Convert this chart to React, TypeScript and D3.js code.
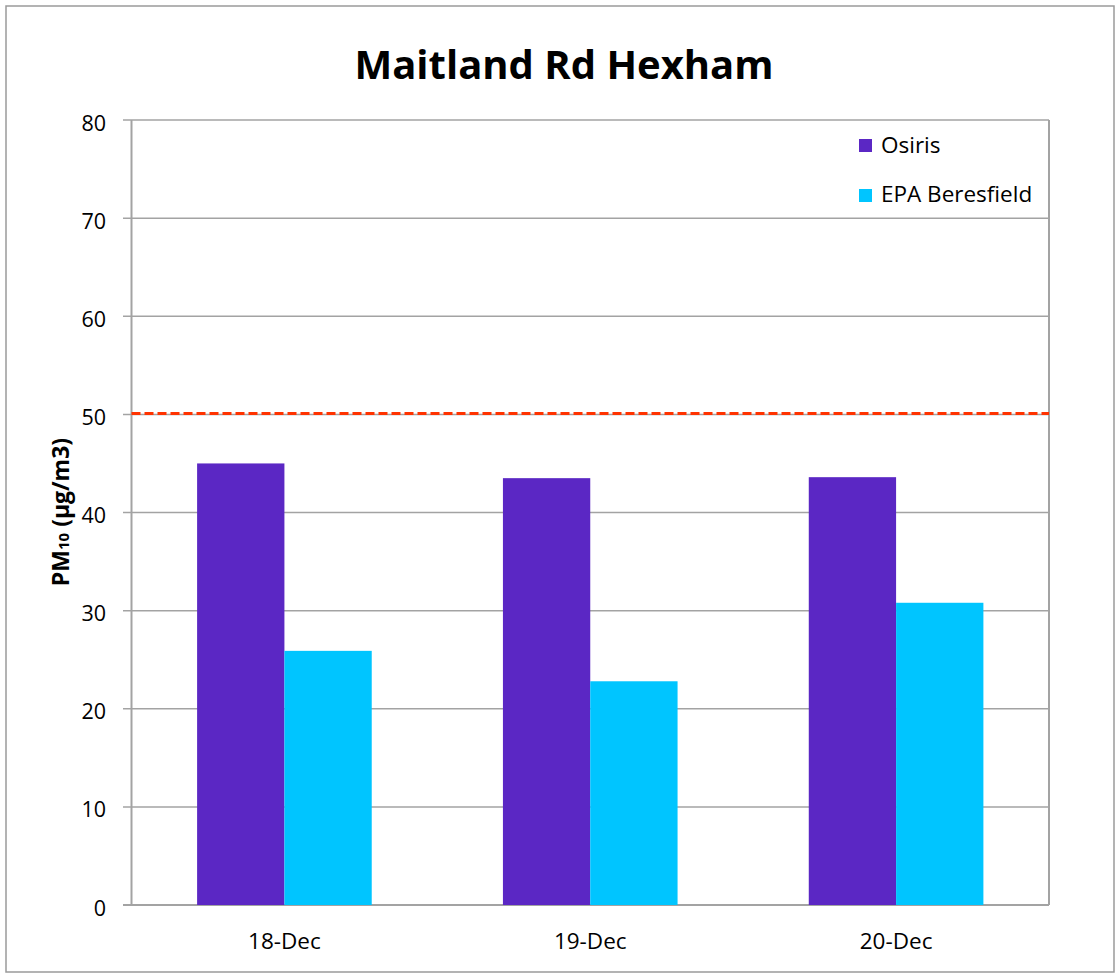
import React from "react";
import * as d3 from "d3";

const categories = ["18-Dec", "19-Dec", "20-Dec"];
const seriesNames = ["Osiris", "EPA Beresfield"];
const osiris = [45.0, 43.5, 43.6];
const epaBeresfield = [25.9, 22.8, 30.8];
const yTicks = [0, 10, 20, 30, 40, 50, 60, 70, 80];
const limitValue = 50.1;
const colors = ["#5B27C4", "#00C5FF"];

export default function App() {
  const W = 1120, H = 973;
  const left = 131.5, right = 1049, top = 120, bottom = 905;
  const font = "'Open Sans', 'Noto Sans', sans-serif";
  const y = d3.scaleLinear().domain([0, 80]).range([bottom, top]);
  const x = d3.scaleBand<string>().domain(categories).range([left, right]).paddingInner(0).paddingOuter(0);
  const groupFrac = 0.571;
  const inner = d3.scaleBand<string>().domain(seriesNames)
    .range([0, x.bandwidth() * groupFrac]).padding(0);
  const groupOffset = (x.bandwidth() * (1 - groupFrac)) / 2;
  const series = [osiris, epaBeresfield];
  const grid = "#a3a3a3";

  return (
    <svg width={W} height={H} style={{ position: "absolute", left: 0, top: 0, background: "#fff" }}>
      <rect x={6} y={6} width={1108} height={966} fill="#fff" stroke="#9a9a9a" strokeWidth={1.5} />
      <text x={564} y={79} textAnchor="middle" fontFamily={font} fontWeight="bold" fontSize={40} fill="#000">
        Maitland Rd Hexham
      </text>
      {yTicks.map((t) => (
        <g key={t}>
          <line x1={123} x2={right} y1={y(t)} y2={y(t)} stroke={grid} strokeWidth={1.5} />
          <text x={106} y={y(t) + 10.5} textAnchor="end" fontFamily={font} fontSize={21.5} fill="#000">{t}</text>
        </g>
      ))}
      <line x1={left} x2={left} y1={top} y2={bottom} stroke={grid} strokeWidth={2} />
      <line x1={right} x2={right} y1={top} y2={bottom} stroke={grid} strokeWidth={2} />
      <line x1={123} x2={right} y1={bottom} y2={bottom} stroke={grid} strokeWidth={2} />
      {categories.map((c, i) => (
        <g key={c}>
          {series.map((s, j) => (
            <rect key={j}
              x={(x(c) as number) + groupOffset + (inner(seriesNames[j]) as number)}
              y={y(s[i])}
              width={inner.bandwidth()}
              height={y(0) - y(s[i])}
              fill={colors[j]} />
          ))}
          <text x={(x(c) as number) + x.bandwidth() / 2} y={949} textAnchor="middle" fontFamily={font} fontSize={22.5} fill="#000">{c}</text>
        </g>
      ))}
      <line x1={left} x2={right} y1={y(limitValue)} y2={y(limitValue)} stroke="#FF3300" strokeWidth={3} strokeDasharray="9 4" />
      <text transform={`translate(69,${512}) rotate(-90)`} textAnchor="middle" fontFamily={font} fontWeight="bold" fontSize={23} fill="#000">
        PM<tspan fontSize={15}>10</tspan> (µg/m3)
      </text>
      {seriesNames.map((n, j) => (
        <g key={n}>
          <rect x={859} y={139 + j * 50} width={13} height={13} fill={colors[j]} />
          <text x={881} y={153 + j * 49} fontFamily={font} fontSize={22.5} fill="#000">{n}</text>
        </g>
      ))}
    </svg>
  );
}
